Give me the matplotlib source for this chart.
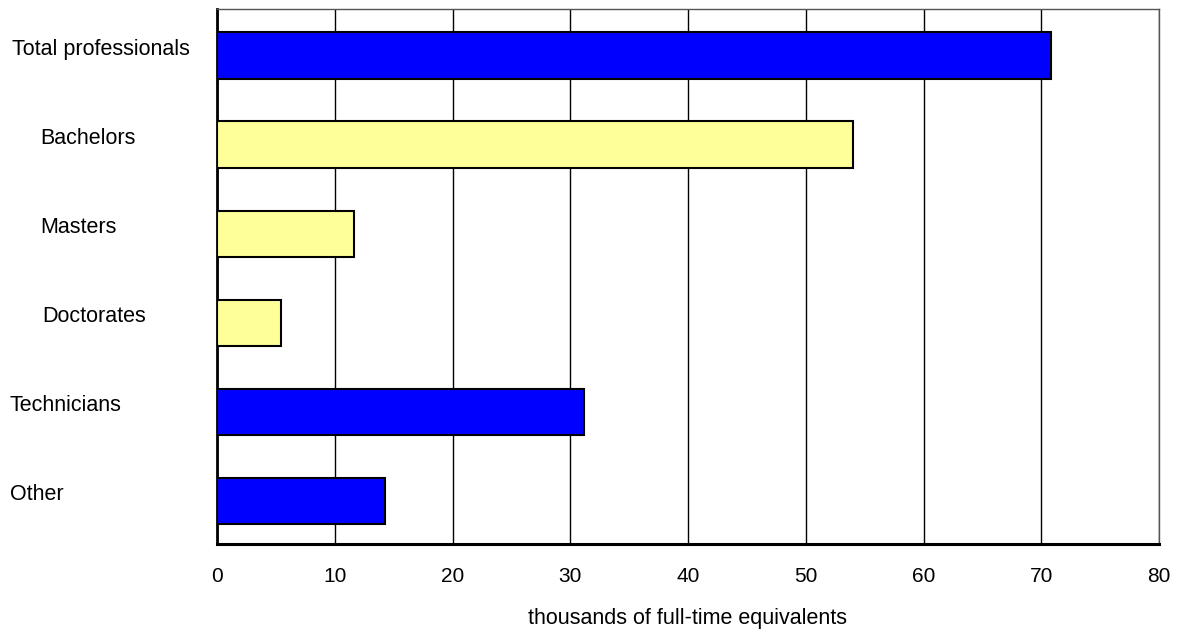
import numpy as np
import matplotlib.pyplot as plt
from matplotlib.transforms import blended_transform_factory

plt.rcParams['font.family'] = ['Liberation Sans', 'DejaVu Sans']

# staff by occupation, thousands of FTE (top to bottom)
categories = ["Total professionals", "Bachelors", "Masters", "Doctorates", "Technicians", "Other"]
values = [70.85, 54.0, 11.6, 5.4, 31.2, 14.3]
is_sub = [False, True, True, True, False, False]
label_x = [12, 40, 40, 42, 10, 10]  # left edge of each label, in figure pixels

fig = plt.figure(figsize=(11.84, 6.33), dpi=100)
W, H = 1184, 633
ax = fig.add_axes([217 / W, 1 - 544 / H, (1159 - 217) / W, (544 - 9) / H])

ypos = np.arange(len(categories))
colors = ["#FFFF99" if s else "#0000FF" for s in is_sub]
ax.barh(ypos + 0.02, values, height=0.52, color=colors, edgecolor="black", linewidth=1.5, zorder=3)

ax.set_ylim(len(categories) - 0.5, -0.5)
ax.set_xlim(0, 80)
ax.set_xticks(np.arange(0, 81, 10))
ax.set_yticks([])
ax.tick_params(axis="x", length=0, pad=16.5, labelsize=15)
ax.grid(axis="x", color="black", linewidth=1, zorder=0)
ax.set_xlabel("thousands of full-time equivalents", fontsize=15.5, labelpad=16)

for side in ["top", "right"]:
    ax.spines[side].set_linewidth(1)
    ax.spines[side].set_color("#555555")
ax.spines["left"].set_linewidth(2)
ax.spines["bottom"].set_linewidth(2.2)

trans = blended_transform_factory(fig.transFigure, ax.transData)
for y, name, x in zip(ypos, categories, label_x):
    ax.text(x / W, y - 0.05, name, transform=trans, ha="left", va="center", fontsize=15.5)

fig.savefig("out.png", dpi=100)
